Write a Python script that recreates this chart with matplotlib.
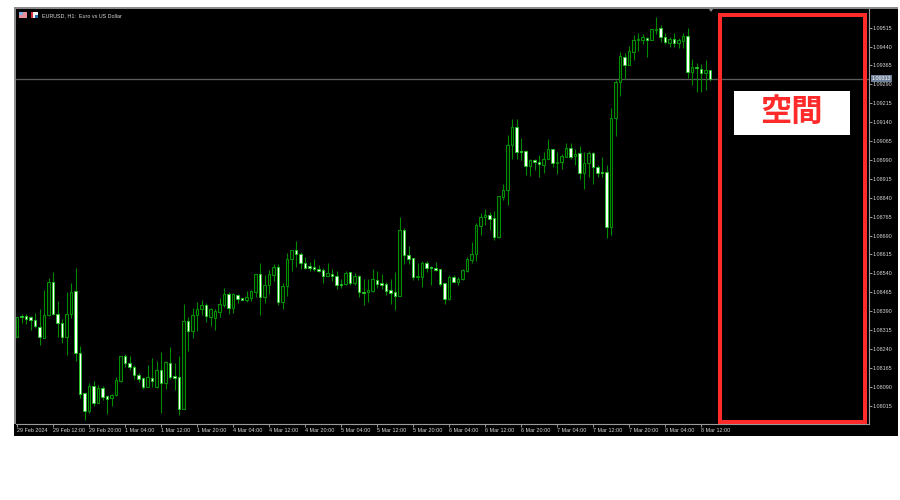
import numpy as np
import matplotlib
matplotlib.use("Agg")
import matplotlib.pyplot as plt
from matplotlib.patches import Rectangle, Polygon

# Prices in points above 1.00000 (1 point = 0.00001)
highs = [8367,8378,8378,8372,8384,8397,8474,8520,8545,8429,
8357,8467,8503,8561,8252,8065,8104,8114,8097,8093,
8057,8061,8128,8212,8220,8213,8175,8144,8129,8175,
8203,8191,8229,8191,8247,8186,8210,8418,8368,8401,
8425,8434,8421,8402,8397,8441,8481,8466,8461,8457,
8443,8470,8474,8538,8580,8533,8553,8577,8577,8500,
8620,8633,8669,8625,8606,8585,8598,8572,8561,8580,
8556,8549,8517,8548,8545,8540,8532,8517,8519,8558,
8551,8538,8507,8518,8545,8763,8719,8648,8601,8580,
8588,8589,8571,8586,8559,8503,8534,8532,8524,8556,
8604,8666,8739,8778,8794,8785,8787,8848,8895,9088,
9151,9153,9076,9030,8995,8993,9010,9021,9072,9034,
9023,9014,9056,9058,9032,9046,9022,9027,9023,8970,
9000,8970,9195,9307,9420,9416,9442,9486,9492,9490,
9478,9509,9558,9526,9495,9478,9492,9474,9492,9512,
9390,9374,9370,9387,9346]
lows = [8287,8343,8339,8315,8323,8257,8284,8371,8374,8288,
8264,8217,8362,8192,8047,7958,7985,8014,8025,8038,
7982,8014,8053,8110,8167,8157,8120,8110,8081,8088,
8090,8086,7985,8081,8120,8077,7979,8001,8232,8285,
8311,8374,8347,8331,8315,8368,8408,8378,8384,8421,
8433,8426,8431,8447,8376,8421,8457,8511,8415,8400,
8449,8551,8567,8556,8556,8551,8551,8547,8503,8529,
8510,8476,8483,8495,8495,8494,8445,8414,8427,8467,
8481,8476,8454,8418,8395,8451,8577,8577,8514,8514,
8487,8547,8494,8551,8490,8418,8434,8505,8494,8514,
8546,8582,8589,8692,8732,8712,8673,8682,8829,8811,
8993,8993,8990,8930,8928,8951,8924,8937,8992,8963,
8935,8953,9003,8994,8970,8914,8875,8924,8895,8924,
8921,8679,8692,9083,9244,9311,9367,9387,9422,9449,
9400,9465,9490,9459,9449,9439,9437,9433,9433,9315,
9288,9259,9261,9268,9303]
opens = [8287,8370,8370,8365,8355,8328,8284,8374,8505,8378,
8341,8288,8377,8471,8223,8065,7995,8093,8025,8085,
8053,8046,8057,8113,8212,8183,8170,8136,8124,8089,
8126,8089,8157,8104,8186,8133,8128,8002,8350,8310,
8376,8398,8414,8365,8364,8388,8414,8459,8401,8454,
8442,8433,8441,8467,8537,8447,8493,8534,8564,8427,
8488,8598,8631,8616,8580,8569,8566,8557,8552,8529,
8539,8529,8499,8498,8544,8500,8528,8467,8465,8470,
8515,8500,8497,8473,8464,8451,8712,8612,8600,8525,
8527,8579,8567,8563,8556,8501,8437,8526,8507,8517,
8548,8592,8616,8729,8764,8772,8759,8686,8843,8870,
9048,9122,9027,9027,8966,8990,8981,8970,8992,9032,
8978,8981,9003,9038,9007,9017,8938,8977,9017,8963,
8942,8944,8724,9156,9298,9400,9367,9420,9466,9465,
9475,9465,9507,9512,9478,9453,9471,9453,9462,9481,
9337,9358,9352,9334,9346]
closes = [8367,8365,8360,8355,8331,8286,8374,8505,8377,8341,
8288,8377,8467,8225,8061,7995,8093,8025,8085,8049,
8043,8057,8117,8212,8183,8169,8136,8122,8089,8128,
8114,8157,8106,8188,8128,8124,8002,8350,8310,8376,
8398,8414,8372,8397,8392,8417,8459,8401,8457,8438,
8434,8445,8471,8538,8447,8493,8537,8564,8426,8488,
8598,8633,8616,8580,8561,8561,8557,8551,8531,8540,
8529,8495,8494,8543,8503,8529,8466,8462,8474,8517,
8498,8495,8470,8462,8451,8712,8612,8598,8525,8529,
8580,8561,8563,8554,8497,8437,8526,8507,8519,8552,
8596,8616,8732,8765,8773,8756,8686,8846,8870,9051,
9122,9023,9022,8966,8990,8980,8972,8995,9032,8977,
8983,9006,9038,9003,9015,8938,8977,9017,8963,8939,
8940,8723,9156,9298,9403,9367,9422,9466,9470,9478,
9466,9509,9509,9477,9457,9471,9453,9465,9483,9337,
9358,9354,9334,9346,9311]

current_price = 1.09313
price_ticks = [1.09515,1.09440,1.09365,1.09290,1.09215,1.09140,1.09065,1.08990,1.08915,
               1.08840,1.08765,1.08690,1.08615,1.08540,1.08465,1.08390,1.08315,1.08240,
               1.08165,1.08090,1.08015]
time_labels = ["29 Feb 2024","29 Feb 12:00","29 Feb 20:00","1 Mar 04:00","1 Mar 12:00",
               "1 Mar 20:00","4 Mar 04:00","4 Mar 12:00","4 Mar 20:00","5 Mar 04:00",
               "5 Mar 12:00","5 Mar 20:00","6 Mar 04:00","6 Mar 12:00","6 Mar 20:00",
               "7 Mar 04:00","7 Mar 12:00","7 Mar 20:00","8 Mar 04:00","8 Mar 12:00"]
time_tick_bars = list(range(0, 160, 8))
title_text = "EURUSD, H1:  Euro vs US Dollar"
note_text = "空間"

W, H = 900, 500
fig = plt.figure(figsize=(9, 5), dpi=100, facecolor="white")

def fx(x): return x / W
def fy(y): return 1 - y / H
def box(x0, y0, x1, y1, **kw):
    fig.add_artist(Rectangle((fx(x0), fy(y1)), (x1-x0)/W, (y1-y0)/H,
                             transform=fig.transFigure, **kw))

# black window with grey left / top edges
box(14, 7, 898, 435.5, facecolor="black", edgecolor="none", zorder=0)
box(14, 7, 16, 424, facecolor="#8a8a8a", edgecolor="none", zorder=0.5)
box(14, 7, 898, 8.6, facecolor="#8a8a8a", edgecolor="none", zorder=0.5)

ax = fig.add_axes([fx(16), fy(424), (868.5-16)/W, (424-9)/H], facecolor="black", zorder=1)

o = 1 + np.array(opens) / 1e5
c = 1 + np.array(closes) / 1e5
h = 1 + np.array(highs) / 1e5
l = 1 + np.array(lows) / 1e5
x = np.arange(len(o))
bear = c < o
top = np.maximum(o, c)
bot = np.minimum(o, c)

ax.hlines(current_price, -1, 200, color="#5c5c5c", lw=0.95, zorder=1)
ax.vlines(x, l, h, color="#008a00", lw=0.8, zorder=2)
ax.bar(x[~bear], (top-bot)[~bear], bottom=bot[~bear], width=0.58,
       facecolor="#001400", edgecolor="#009000", lw=0.75, zorder=3)
ax.bar(x[bear], (top-bot)[bear], bottom=bot[bear], width=0.58,
       facecolor="white", edgecolor="#18c818", lw=0.6, zorder=3)

ax.set_xlim((16-17)/4.5, (868.5-17)/4.5)
ax.set_ylim(1.07942, 1.09589)

for s in ("top", "left"):
    ax.spines[s].set_visible(False)
for s in ("right", "bottom"):
    ax.spines[s].set_color("#9a9a9a")
    ax.spines[s].set_linewidth(0.8)

ax.yaxis.tick_right()
ax.set_yticks(price_ticks)
ax.set_yticklabels([f"{p:.5f}" for p in price_ticks], fontsize=3.9,
                   family="Liberation Sans", color="#d8d8d8")
ax.tick_params(axis="y", length=2, width=0.6, color="#b0b0b0", pad=0.6)
ax.set_xticks(time_tick_bars)
ax.set_xticklabels(time_labels, fontsize=3.9, family="Liberation Sans",
                   color="#d8d8d8", ha="left")
ax.tick_params(axis="x", length=2.2, width=0.6, color="#b0b0b0", pad=0.6)

# current price tag
box(870.5, 75.2, 892, 82.2, facecolor="#6f8199", edgecolor="none", zorder=2)
fig.text(fx(872), fy(78.9), f"{current_price:.5f}", fontsize=3.9, family="Liberation Sans",
         color="white", va="center", ha="left", zorder=3)

# header: flags and instrument description
box(19, 12.3, 27, 18, facecolor="#e88f9c", edgecolor="none", zorder=3)
box(19, 12.3, 23, 15, facecolor="#7fb2de", edgecolor="none", zorder=3.1)
box(31, 12.3, 37.5, 18, facecolor="#f4f4f4", edgecolor="none", zorder=3)
box(31, 12.3, 33, 18, facecolor="#d8303a", edgecolor="none", zorder=3.1)
box(34.5, 15, 37.5, 18, facecolor="#2c6db0", edgecolor="none", zorder=3.1)
fig.text(fx(42), fy(15.3), title_text, fontsize=3.9, family="Liberation Sans",
         color="#d8d8d8", va="center", ha="left", zorder=3)

# small shift marker at the top of the chart
fig.add_artist(Polygon([[fx(708.5), fy(8.5)], [fx(713.5), fy(8.5)], [fx(711), fy(12)]],
                       transform=fig.transFigure, facecolor="#8a8a8a", edgecolor="none", zorder=3))

# annotation
box(720.3, 14.7, 864.7, 422, facecolor="none", edgecolor="#ff2b2b", lw=2.9, zorder=4)
box(733.7, 90.7, 850, 135, facecolor="white", edgecolor="none", zorder=4)
fig.text(fx(791.7), fy(112.3), note_text, fontsize=22.5, fontweight="bold",
         family=["Noto Sans CJK JP", "DejaVu Sans"], color="#ff2b2b",
         ha="center", va="center", zorder=5)

fig.savefig("out.png", dpi=100, facecolor="white")
